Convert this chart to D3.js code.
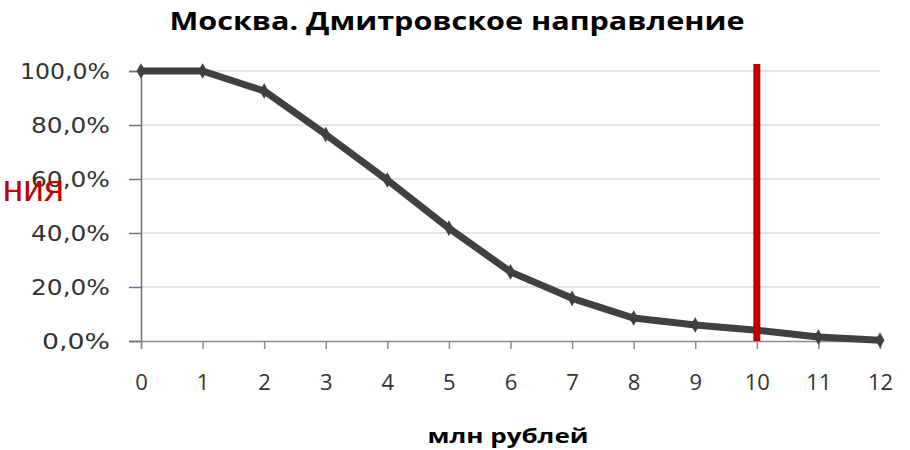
<!DOCTYPE html>
<html><head><meta charset="utf-8">
<script src="https://cdn.jsdelivr.net/npm/d3@7"></script>
<style>body{margin:0;background:#fff}svg{display:block}</style>
</head><body>
<script>
const xValues = [0,1,2,3,4,5,6,7,8,9,10,11,12];
const shares = [1.0,1.0,0.926,0.765,0.596,0.418,0.256,0.158,0.085,0.059,0.040,0.015,0.003];
const yTicks = [0,0.2,0.4,0.6,0.8,1.0];
const markerX = 10;
const titleText = "Москва. Дмитровское направление";
const xTitle = "млн рублей";
const sideText = "ния";

const W=910,H=450;
const svg=d3.select("body").append("svg").attr("width",W).attr("height",H);
const x=d3.scaleLinear().domain([0,12]).range([141,880]);
const y=d3.scaleLinear().domain([0,1]).range([341,71]);

// grid
svg.append("g").selectAll("line").data(yTicks.filter(d=>d>0)).join("line")
 .attr("x1",x(0)).attr("x2",x(12)).attr("y1",d=>y(d)).attr("y2",d=>y(d))
 .attr("stroke","#d9d9d9").attr("stroke-width",1.5);

// y axis
const fmt=d=>d3.format(".1f")(d*100).replace(".",",")+"%";
const ya=svg.append("g").attr("transform",`translate(${x(0)},0)`)
 .call(d3.axisLeft(y).tickValues(yTicks).tickFormat(fmt).tickSize(12).tickPadding(19));
ya.select(".domain").attr("stroke","#7a6a8a").attr("stroke-width",1.5);
ya.selectAll(".tick line").attr("stroke","#7a6a8a").attr("stroke-width",1.5);
ya.selectAll("text").attr("font-family","DejaVu Sans").attr("font-size",22).attr("fill","#333")
 .attr("textLength",d=>d===1?90:(d===0?68:79)).attr("lengthAdjust","spacingAndGlyphs");

// x axis
const xa=svg.append("g").attr("transform",`translate(0,${y(0)})`)
 .call(d3.axisBottom(x).tickValues(xValues).tickFormat(d3.format("d")).tickSize(8).tickPadding(25));
xa.select(".domain").attr("stroke","#8c8c8c").attr("stroke-width",1.5);
xa.selectAll(".tick line").attr("stroke","#8c8c8c").attr("stroke-width",1.5);
xa.selectAll("text").attr("font-family","Open Sans").attr("font-size",22).attr("fill","#333");

// line
const pts=xValues.map((v,i)=>[v,shares[i]]);
svg.append("path").datum(pts).attr("fill","none").attr("stroke","#404040")
 .attr("stroke-width",7).attr("stroke-linejoin","round")
 .attr("d",d3.line().x(d=>x(d[0])).y(d=>y(d[1])));
svg.append("g").selectAll("path").data(pts).join("path")
 .attr("transform",d=>`translate(${x(d[0])},${y(d[1])})`)
 .attr("d",d3.symbol(d3.symbolDiamond,70)).attr("fill","#404040");

// red marker line
svg.append("line").attr("x1",x(markerX)).attr("x2",x(markerX)).attr("y1",64).attr("y2",y(0))
 .attr("stroke","#c00000").attr("stroke-width",7);

// titles
svg.append("text").attr("x",457).attr("y",30).attr("text-anchor","middle")
 .attr("font-family","Open Sans").attr("font-weight","bold").attr("font-size",25)
 .attr("textLength",575).attr("lengthAdjust","spacingAndGlyphs")
 .attr("fill","#000").text(titleText);
svg.append("text").attr("x",508).attr("y",443).attr("text-anchor","middle")
 .attr("font-family","Open Sans").attr("font-weight","bold").attr("font-size",20)
 .attr("textLength",161).attr("lengthAdjust","spacingAndGlyphs")
 .attr("fill","#000").text(xTitle);
svg.append("text").attr("x",64).attr("y",201).attr("text-anchor","end")
 .attr("font-family","Liberation Sans").attr("font-size",37)
 .attr("fill","#c00000").text(sideText);
</script>
</body></html>
